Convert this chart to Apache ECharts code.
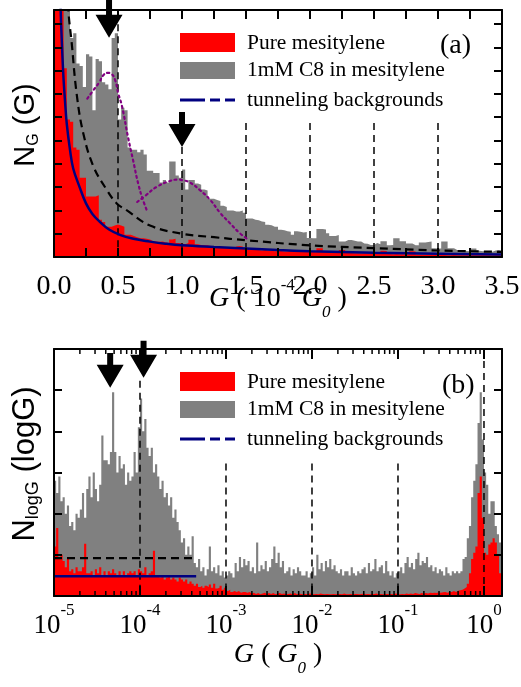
<!DOCTYPE html>
<html>
<head>
<meta charset="utf-8">
<script src="https://cdn.jsdelivr.net/npm/echarts@6.0.0/dist/echarts.min.js"></script>
<style>html,body{margin:0;padding:0;background:#fff;}#chart{width:521px;height:687px;}</style>
</head>
<body>
<div id="chart"></div>
<script>
// ================= DATA =================
// Panel (a): linear histogram, bins of 0.025 (10^-4 G0)
const binStartA = 0, binWidthA = 0.025;
const greyA = [12,12,12,11.5,10.9,9.4,9.6,8.3,8.2,7.3,
 8.7,8.6,6.3,8.5,8.4,7.5,7.4,7.2,9.4,9.6,
 5.9,6.4,6.3,4.7,4.6,4.6,4.5,4.6,4.4,3.7,
 3.7,3.6,3.6,3.2,3.3,3.2,4.1,4.1,3.5,3.4,
 3.75,2.9,3.3,3.3,3.15,3.1,2.9,2.85,2.5,2.5,
 2.45,2.4,2.2,2.15,2.0,2.0,1.95,1.95,2.0,1.9,
 1.65,1.65,1.6,1.58,1.52,1.5,1.38,1.36,1.3,1.3,
 1.17,1.15,1.1,1.08,0.95,1.1,1.08,1.05,1.07,0.82,
 0.8,0.8,1.2,1.2,1.18,1.02,0.9,0.9,0.94,0.66,
 0.66,0.73,0.73,0.7,0.66,0.66,0.58,0.57,0.52,0.52,
 0.6,0.55,0.68,0.68,0.5,0.52,0.8,0.8,0.68,0.68,
 0.58,0.58,0.5,0.5,0.62,0.62,0.64,0.66,0.38,0.37,
 0.37,0.66,0.66,0.38,0.38,0.3,0.3,0.3,0.26,0.25,
 0.36,0.36,0.27,0.25,0.25,0.22,0.23,0.28,0.3,0.26];
const redA = [12,12,12,8.1,5.9,5.8,4.7,4.6,3.4,3.4,
 2.6,2.6,2.6,2.65,1.6,1.5,1.3,1.3,1.35,1.4,
 1.35,1.3,0.95,0.95,0.9,0.85,0.8,0.8,0.78,0.75,
 0.68,0.66,0.65,0.66,0.62,0.6,0.75,0.78,0.6,0.58,
 0.55,0.6,0.74,0.74,0.55,0.52,0.5,0.5,0.47,0.45,
 0.45,0.42,0.42,0.4,0.4,0.38,0.45,0.47,0.45,0.35,
 0.33,0.32,0.3,0.3,0.28,0.3,0.27,0.27,0.25,0.26,
 0.26,0.24,0.24,0.28,0.26,0.25,0.24,0.22,0.22,0.2,
 0.22,0.2,0.38,0.38,0.22,0.2,0.2,0.18,0.18,0.3,
 0.3,0.18,0.17,0.16,0.16,0.15,0.16,0.15,0.14,0.15,
 0.14,0.13,0.27,0.26,0.13,0.12,0.13,0.12,0.12,0.11,
 0.12,0.25,0.24,0.11,0.1,0.1,0.1,0.1,0.09,0.1,
 0.09,0.09,0.08,0.08,0.09,0.08,0.08,0.08,0.07,0.08,
 0.08,0.07,0.07,0.08,0.07,0.07,0.06,0.07,0.07,0.06];
const blueA = [[0.045,12.5],[0.052,10.6],[0.06,9.4],[0.073,7.8],[0.086,6.7],[0.1,5.7],[0.125,4.6],[0.15,3.8],[0.2,3.0],[0.25,2.3],[0.3,1.85],[0.36,1.5],[0.43,1.18],[0.52,0.94],[0.62,0.78],[0.75,0.66],[0.87,0.57],[1.0,0.5],[1.25,0.43],[1.5,0.37],[1.75,0.3],[2.0,0.25],[2.5,0.18],[3.0,0.14],[3.5,0.11]];
const dashA = [[0.105,12],[0.112,10.6],[0.138,9.2],[0.177,7.0],[0.229,5.3],[0.307,3.9],[0.41,2.9],[0.49,2.3],[0.57,2.0],[0.75,1.35],[1.0,1.0],[1.25,0.85],[1.5,0.72],[2.0,0.5],[2.5,0.38],[3.0,0.28],[3.5,0.22]];
const gaussA1 = [[0.26,6.8],[0.3,7.1],[0.354,7.5],[0.385,7.8],[0.42,7.9],[0.45,7.85],[0.477,7.6],[0.503,7.0],[0.53,6.5],[0.58,5.1],[0.62,4.1],[0.66,3.1],[0.7,2.37],[0.73,1.94]];
const gaussA2 = [[0.65,2.36],[0.72,2.66],[0.8,3.0],[0.9,3.25],[0.97,3.32],[1.0,3.3],[1.06,3.2],[1.14,2.87],[1.22,2.45],[1.3,1.88],[1.375,1.45],[1.45,1.03],[1.52,0.74]];
const refLinesA = [[0.5,10.5],[1.0,4.72],[1.5,5.75],[2.0,5.75],[2.5,5.75],[3.0,5.75]];
const arrowsA = [[0.43,11.1,9.41],[1.0,6.22,4.72]]; // x, tail value, tip value

// Panel (b): log histogram, bins of 0.025 decade starting at 10^-5
const binStartB = -5, binWidthB = 0.025;
const greyB = [2.8,2.5,2.9,2.3, 2.4,2.0,2.2,1.7, 1.8,1.6,2.0,1.9, 2.1,2.5,1.9,2.6,
 2.9,2.4,3.0,2.6, 2.3,2.7,3.9,3.3, 3.3,3.2,3.5,4.95, 3.5,3.0,3.4,3.1,
 3.2,2.7,3.0,2.8, 2.9,3.5,3.0,4.1, 4.8,4.0,4.3,3.6, 3.4,3.6,3.0,3.2,
 2.9,2.6,2.8,2.4, 2.5,2.2,2.4,1.9, 2.1,1.8,1.6,1.3, 1.4,1.0,1.2,1.0,
 1.45,0.8,0.7,0.9, 0.6,0.7,0.5,0.65, 1.2,0.6,0.7,0.55, 0.75,0.5,0.6,0.45,
 0.5,0.6,0.55,0.45, 0.8,0.6,0.95,0.7, 0.9,0.75,0.85,0.6, 0.7,0.55,1.3,0.6,
 0.75,0.65,0.85,0.6, 0.7,0.9,1.2,0.8, 1.05,0.7,0.85,0.55, 0.6,0.7,0.5,0.65,
 0.55,0.7,0.6,0.5, 0.5,0.6,0.45,0.55, 0.7,0.5,1.0,0.65, 0.8,0.6,0.85,0.7,
 0.9,0.65,0.75,0.6, 0.55,0.65,0.5,0.6, 0.6,0.5,0.7,0.55, 0.5,0.6,0.55,0.65,
 0.7,0.55,0.8,0.6, 0.65,0.9,0.6,0.7, 0.75,0.55,0.85,0.6, 0.5,0.6,0.45,0.55,
 0.6,0.7,0.55,0.8, 0.95,0.7,0.8,0.65, 0.9,1.05,0.75,0.85, 0.8,0.95,0.7,0.75,
 0.6,0.7,0.55,0.65, 0.6,0.5,0.7,0.55, 0.5,0.6,0.55,0.6, 0.55,0.6,0.9,0.95,
 1.4,1.7,2.4,2.8, 3.2,4.2,4.95,3.8, 3.0,2.7,2.0,2.3, 2.3,1.7,1.5,1.3];
const redB = [1.2,1.65,0.9,1.0, 0.85,0.7,0.9,0.6, 0.65,0.55,0.7,0.6, 0.6,0.7,1.27,0.55,
 0.55,0.6,0.5,0.65, 0.55,0.7,0.5,0.6, 0.5,0.6,0.55,0.65, 0.55,0.5,0.6,0.5,
 0.6,0.5,0.55,0.6, 0.55,0.6,0.5,0.65, 0.6,0.55,0.7,0.5, 0.55,0.6,1.1,0.5,
 0.5,0.45,0.5,0.4, 0.45,0.5,0.4,0.45, 0.4,0.35,0.45,0.4, 0.35,0.4,0.3,0.35,
 0.3,0.25,0.3,0.22, 0.25,0.2,0.25,0.22, 0.28,0.2,0.3,0.18, 0.2,0.25,0.15,0.2,
 0.12,0.15,0.1,0.12, 0.1,0.12,0.08,0.1, 0.1,0.08,0.1,0.06, 0.08,0.05,0.07,0.04,
 0.06,0.08,0.05,0.07, 0.05,0.07,0.04,0.06, 0.07,0.05,0.06,0.04, 0.05,0.06,0.04,0.07,
 0.04,0.06,0.05,0.04, 0.05,0.04,0.06,0.05, 0.04,0.05,0.04,0.06, 0.05,0.04,0.05,0.04,
 0.04,0.05,0.04,0.05, 0.05,0.04,0.06,0.04, 0.04,0.05,0.04,0.05, 0.05,0.04,0.05,0.06,
 0.04,0.05,0.04,0.05, 0.05,0.06,0.04,0.05, 0.04,0.05,0.05,0.04, 0.05,0.04,0.06,0.05,
 0.04,0.05,0.04,0.06, 0.05,0.06,0.05,0.07, 0.06,0.05,0.07,0.06, 0.07,0.06,0.08,0.07,
 0.08,0.07,0.09,0.08, 0.09,0.1,0.08,0.1, 0.1,0.12,0.1,0.13, 0.14,0.15,0.18,0.22,
 0.3,0.55,0.9,1.05, 1.2,2.5,2.9,1.9, 1.05,1.0,1.25,1.3, 1.4,1.3,1.0,0.55];
const blueB = [[1e-5,0.48],[4.5e-4,0.48]];
const dashB = [[1e-5,0.92],[4.5e-4,0.92]];
const refLinesB = [[1e-4,5.23],[1e-3,3.22],[1e-2,3.22],[1e-1,3.22],[1,6]];
const arrowsB = [[4.5e-5,5.9,5.06],[1.1e-4,6.2,5.3]];
const minorTicksB = [2e-5,3e-5,4e-5,5e-5,6e-5,7e-5,8e-5,9e-5,
 2e-4,3e-4,4e-4,5e-4,6e-4,7e-4,8e-4,9e-4,
 2e-3,3e-3,4e-3,5e-3,6e-3,7e-3,8e-3,9e-3,
 2e-2,3e-2,4e-2,5e-2,6e-2,7e-2,8e-2,9e-2,
 0.2,0.3,0.4,0.5,0.6,0.7,0.8,0.9];

// ================= CHART =================
const SERIF = '"Liberation Serif","Times New Roman",serif';
const SANS = '"Liberation Sans",Arial,sans-serif';
const RED = '#ff0000', GREY = '#808080', NAVY = '#000080', PURPLE = '#800080';

function stepLin(start, w, vals) {
  const d = vals.map((v, i) => [start + i * w, v]);
  d.push([start + vals.length * w, vals[vals.length - 1]]);
  return d;
}
function stepLog(start, w, vals) {
  const d = vals.map((v, i) => [Math.pow(10, start + i * w), v]);
  d.push([Math.pow(10, start + vals.length * w), vals[vals.length - 1]]);
  return d;
}

const chart = echarts.init(document.getElementById('chart'), null, {renderer: 'canvas'});

const frame = {show: true, onZero: false, lineStyle: {color: '#000', width: 2}};
const series = [];
function addLine(xi, yi, data, style, extra) {
  series.push(Object.assign({type: 'line', xAxisIndex: xi, yAxisIndex: yi, data: data,
    symbol: 'none', silent: true, animation: false, lineStyle: style}, extra || {}));
  return series.length - 1;
}
function addHist(xi, yi, data, color) {
  series.push({type: 'line', xAxisIndex: xi, yAxisIndex: yi, data: data, step: 'end',
    symbol: 'none', silent: true, animation: false,
    lineStyle: {width: 0, opacity: 0}, areaStyle: {color: color, opacity: 1}});
  return series.length - 1;
}
const vdash = {color: '#000', width: 1.5, type: [7, 5]};

// panel (a)
refLinesA.forEach(r => addLine(0, 0, [[r[0], r[1]], [r[0], 0]], vdash));
const sA = addHist(0, 0, stepLin(binStartA, binWidthA, greyA), GREY);
addHist(0, 0, stepLin(binStartA, binWidthA, redA), RED);
addLine(0, 0, gaussA1, {color: PURPLE, width: 2.2, type: [2, 3.5], cap: 'round'}, {smooth: 0.5});
addLine(0, 0, gaussA2, {color: PURPLE, width: 2.2, type: [2, 3.5], cap: 'round'}, {smooth: 0.5});
addLine(0, 0, dashA, {color: '#000', width: 2.2, type: [8, 5]}, {smooth: 0.4});
addLine(0, 0, blueA, {color: NAVY, width: 2.5}, {smooth: 0.4});

// panel (b)
refLinesB.forEach(r => addLine(2, 2, [[r[0], r[1]], [r[0], 0]], vdash));
const sB = addHist(2, 2, stepLog(binStartB, binWidthB, greyB), GREY);
addHist(2, 2, stepLog(binStartB, binWidthB, redB), RED);
addLine(2, 2, dashB, {color: '#000', width: 2.2, type: [8, 5]});
addLine(2, 2, blueB, {color: NAVY, width: 2.5});
// minor log ticks (2..9 of each decade) on bottom and top frame of panel (b)
series.push({type: 'custom', xAxisIndex: 2, yAxisIndex: 2, silent: true, animation: false, clip: false, z: 20,
  data: minorTicksB.map(v => [v, 0]),
  renderItem: function (params, api) {
    const b = api.coord([api.value(0), 0]);
    const t = api.coord([api.value(0), 6]);
    return {type: 'group', children: [
      {type: 'line', shape: {x1: b[0], y1: b[1], x2: b[0], y2: b[1] - 5}, style: {stroke: '#000', lineWidth: 1.5}},
      {type: 'line', shape: {x1: t[0], y1: t[1], x2: t[0], y2: t[1] + 5}, style: {stroke: '#000', lineWidth: 1.5}}
    ]};
  }
});

const richX = {
  i: {fontFamily: SERIF, fontStyle: 'italic', fontSize: 28, lineHeight: 44, color: '#000'},
  n: {fontFamily: SERIF, fontSize: 28, lineHeight: 44, color: '#000'},
  p: {fontFamily: SERIF, fontSize: 17, lineHeight: 17, verticalAlign: 'top', color: '#000'},
  b: {fontFamily: SERIF, fontStyle: 'italic', fontSize: 17, lineHeight: 24, verticalAlign: 'bottom', color: '#000'}
};
function richY(fs, sfs) {
  return {
    n: {fontFamily: SANS, fontSize: fs, lineHeight: fs + 3, color: '#000'},
    s: {fontFamily: SANS, fontSize: sfs, lineHeight: sfs, verticalAlign: 'bottom', color: '#000'}
  };
}
const tickMajor = {show: true, inside: true, length: 9, lineStyle: {color: '#000', width: 2}};
const tickY = {show: true, inside: true, length: 8, lineStyle: {color: '#000', width: 2}};

const option = {
  backgroundColor: '#fff',
  animation: false,
  grid: [
    {left: 54, top: 10, width: 448, height: 247, containLabel: false, outerBoundsMode: 'none'},
    {left: 54, top: 349, width: 448, height: 247, containLabel: false, outerBoundsMode: 'none'}
  ],
  xAxis: [
    {type: 'value', gridIndex: 0, position: 'bottom', min: 0, max: 3.5, interval: 0.5, z: 10,
     axisLine: frame, splitLine: {show: false}, axisTick: tickMajor,
     minorTick: {show: true, splitNumber: 2, length: 9, lineStyle: {color: '#000', width: 2}},
     axisLabel: {show: true, margin: 16, color: '#000', formatter: v => '{a|' + v.toFixed(1) + '}',
       rich: {a: {fontFamily: SERIF, fontSize: 28, lineHeight: 28, color: '#000'}}},
     name: '{i|G}{n| ( 10}{p|-4}{n| }{i|G}{b|0}{n| )}', nameLocation: 'middle', nameGap: 20, nameMoveOverlap: false,
     nameTextStyle: {rich: richX}},
    {type: 'value', gridIndex: 0, position: 'top', min: 0, max: 3.5, interval: 0.5, z: 10,
     axisLine: frame, splitLine: {show: false}, axisTick: tickMajor,
     minorTick: {show: true, splitNumber: 2, length: 9, lineStyle: {color: '#000', width: 2}},
     axisLabel: {show: false}},
    {type: 'log', logBase: 10, gridIndex: 1, position: 'bottom', min: 1e-5, max: 1.62, z: 10,
     axisLine: frame, splitLine: {show: false}, minorTick: {show: false},
     axisTick: {show: true, inside: true, length: 10, lineStyle: {color: '#000', width: 2}},
     axisLabel: {show: true, margin: 6, showMaxLabel: false, color: '#000',
       formatter: function (v) {
         const e = Math.log10(v), r = Math.round(e);
         return Math.abs(e - r) > 0.01 ? '' : '{b|10}{s|' + r + '}';
       },
       rich: {b: {fontFamily: SERIF, fontSize: 27, lineHeight: 48, color: '#000'},
              s: {fontFamily: SERIF, fontSize: 17, lineHeight: 17, verticalAlign: 'top', color: '#000'}}},
     name: '{i|G}{n| ( }{i|G}{b|0}{n| )}', nameLocation: 'middle', nameGap: 37, nameMoveOverlap: false,
     nameTextStyle: {rich: richX}},
    {type: 'log', logBase: 10, gridIndex: 1, position: 'top', min: 1e-5, max: 1.62, z: 10,
     axisLine: frame, splitLine: {show: false}, minorTick: {show: false},
     axisTick: {show: true, inside: true, length: 10, lineStyle: {color: '#000', width: 2}},
     axisLabel: {show: false}}
  ],
  yAxis: [
    {type: 'value', gridIndex: 0, position: 'left', min: 0, max: 10.6, interval: 1, z: 10,
     axisLine: frame, splitLine: {show: false}, axisTick: tickY, axisLabel: {show: false}},
    {type: 'value', gridIndex: 0, position: 'right', min: 0, max: 10.6, interval: 1, z: 10,
     axisLine: frame, splitLine: {show: false}, axisTick: tickY, axisLabel: {show: false}},
    {type: 'value', gridIndex: 1, position: 'left', min: 0, max: 6, interval: 1, z: 10,
     axisLine: frame, splitLine: {show: false}, axisTick: tickY, axisLabel: {show: false}},
    {type: 'value', gridIndex: 1, position: 'right', min: 0, max: 6, interval: 1, z: 10,
     axisLine: frame, splitLine: {show: false}, axisTick: tickY, axisLabel: {show: false}}
  ],
  series: series
};
chart.setOption(option);

// ---------- legends, panel labels, y titles and arrows ----------
function legend(y0) {
  const t = (txt, y) => ({type: 'text', x: 247, y: y, z: 100,
    style: {text: txt, fill: '#000', font: '21.5px ' + SERIF, align: 'left', verticalAlign: 'middle'}});
  return [
    {type: 'rect', z: 100, shape: {x: 180, y: y0, width: 55, height: 19}, style: {fill: RED}},
    t('Pure mesitylene', y0 + 10),
    {type: 'rect', z: 100, shape: {x: 180, y: y0 + 29, width: 55, height: 17}, style: {fill: GREY}},
    t('1mM C8 in mesitylene', y0 + 37.5),
    {type: 'line', z: 100, shape: {x1: 180, y1: y0 + 67, x2: 205, y2: y0 + 67}, style: {stroke: NAVY, lineWidth: 3}},
    {type: 'line', z: 100, shape: {x1: 210, y1: y0 + 67, x2: 220, y2: y0 + 67}, style: {stroke: NAVY, lineWidth: 3}},
    {type: 'line', z: 100, shape: {x1: 225, y1: y0 + 67, x2: 235, y2: y0 + 67}, style: {stroke: NAVY, lineWidth: 3}},
    t('tunneling backgrounds', y0 + 67)
  ];
}
function arrow(si, a) {
  const tail = chart.convertToPixel({seriesIndex: si}, [a[0], a[1]]);
  const tip = chart.convertToPixel({seriesIndex: si}, [a[0], a[2]]);
  const x = tip[0], ty = tip[1], t0 = tail[1], hl = 23, hw = 13.5, sw = 3;
  return {type: 'polygon', z: 100,
    shape: {points: [[x - sw, t0], [x + sw, t0], [x + sw, ty - hl], [x + hw, ty - hl], [x, ty], [x - hw, ty - hl], [x - sw, ty - hl]]},
    style: {fill: '#000'}};
}
function yTitle(txt, x, y, fs, sfs) {
  return {type: 'text', x: x, y: y, rotation: Math.PI / 2, z: 100,
    style: {text: txt, rich: richY(fs, sfs), align: 'center', verticalAlign: 'middle', fill: '#000'}};
}
const graphics = [].concat(
  legend(33), legend(372),
  [{type: 'text', x: 440, y: 46, z: 100, style: {text: '(a)', fill: '#000', font: '28px ' + SERIF, align: 'left', verticalAlign: 'middle'}},
   {type: 'text', x: 442, y: 386, z: 100, style: {text: '(b)', fill: '#000', font: '28px ' + SERIF, align: 'left', verticalAlign: 'middle'}},
   yTitle('{n|N}{s|G}{n| (G)}', 26, 125, 29, 16),
   yTitle('{n|N}{s|logG}{n| (logG)}', 25, 464, 31, 18)],
  arrowsA.map(a => arrow(sA, a)),
  arrowsB.map(a => arrow(sB, a))
);
chart.setOption({graphic: graphics});
</script>
</body>
</html>
